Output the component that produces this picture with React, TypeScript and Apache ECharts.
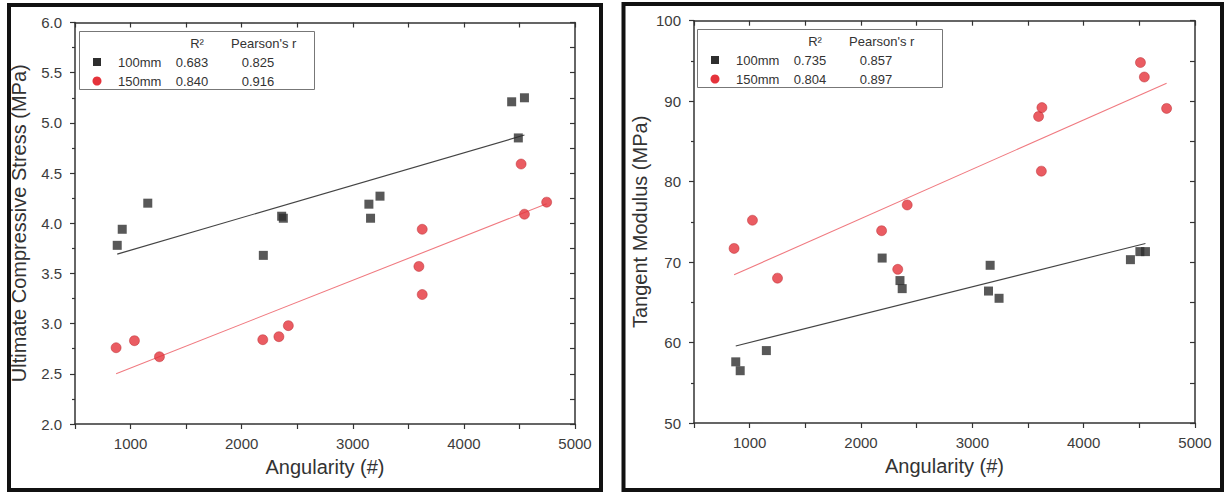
import React, { useEffect, useRef } from "react";
import * as echarts from "echarts";

// Ultimate compressive stress vs angularity
const stressAngularity100 = [880, 925, 1155, 2195, 2360, 2375, 3145, 3160, 3245, 4430, 4545, 4490];
const stress100 = [3.78, 3.94, 4.2, 3.68, 4.07, 4.05, 4.19, 4.05, 4.27, 5.21, 5.25, 4.85];
const stressAngularity150 = [870, 1035, 1260, 2190, 2335, 2420, 3625, 3595, 3625, 4515, 4545, 4745];
const stress150 = [2.76, 2.83, 2.67, 2.84, 2.87, 2.98, 3.94, 3.57, 3.29, 4.59, 4.09, 4.21];

// Tangent modulus vs angularity
const modulusAngularity100 = [875, 915, 1150, 2190, 2350, 2370, 3160, 3145, 3240, 4420, 4505, 4555];
const modulus100 = [57.6, 56.5, 59.0, 70.5, 67.7, 66.7, 69.6, 66.4, 65.5, 70.3, 71.3, 71.3];
const modulusAngularity150 = [860, 1025, 1250, 2185, 2330, 2415, 3595, 3625, 3620, 4510, 4545, 4745];
const modulus150 = [71.7, 75.2, 68.0, 73.9, 69.1, 77.1, 88.1, 89.2, 81.3, 94.8, 93.0, 89.1];

// Legend table
const sizeLabels = ["100mm", "150mm"];
const stressR2 = ["0.683", "0.840"];
const stressPearson = ["0.825", "0.916"];
const modulusR2 = ["0.735", "0.804"];
const modulusPearson = ["0.857", "0.897"];

const BLACK = "#2e2e2e";
const RED = "#e5333b";
const FONT = "Liberation Sans, Arial, sans-serif";

function zip(xs: number[], ys: number[]) {
  return xs.map((x, i) => [x, ys[i]]);
}

// Least-squares line over the data's x range
function fitLine(xs: number[], ys: number[]) {
  const n = xs.length;
  const mx = xs.reduce((a, b) => a + b, 0) / n;
  const my = ys.reduce((a, b) => a + b, 0) / n;
  let sxy = 0;
  let sxx = 0;
  for (let i = 0; i < n; i++) {
    sxy += (xs[i] - mx) * (ys[i] - my);
    sxx += (xs[i] - mx) ** 2;
  }
  const slope = sxy / sxx;
  const x0 = Math.min(...xs);
  const x1 = Math.max(...xs);
  return [
    [x0, my + slope * (x0 - mx)],
    [x1, my + slope * (x1 - mx)],
  ];
}

function legendTable(x0: number, y0: number, w: number, r2: string[], pearson: string[]) {
  const txt = (x: number, y: number, text: string, align: string) => ({
    type: "text",
    x,
    y,
    z: 21,
    style: {
      text,
      fill: "#333",
      font: `13px ${FONT}`,
      align,
      verticalAlign: "middle",
    },
  });
  const rows = [y0 + 31, y0 + 50];
  const children: any[] = [
    {
      type: "rect",
      z: 20,
      shape: { x: x0 + 0.5, y: y0 + 0.5, width: w, height: 58 },
      style: { fill: "#fff", stroke: "#777", lineWidth: 1 },
    },
    txt(x0 + 118, y0 + 12, "R²", "center"),
    txt(x0 + 152, y0 + 12, "Pearson's r", "left"),
    {
      type: "rect",
      z: 21,
      shape: { x: x0 + 14, y: rows[0] - 4, width: 8, height: 8 },
      style: { fill: BLACK },
    },
    {
      type: "circle",
      z: 21,
      shape: { cx: x0 + 18, cy: rows[1], r: 4.5 },
      style: { fill: RED },
    },
  ];
  rows.forEach((y, i) => {
    children.push(txt(x0 + 39, y, sizeLabels[i], "left"));
    children.push(txt(x0 + 113, y, r2[i], "center"));
    children.push(txt(x0 + 179, y, pearson[i], "center"));
  });
  return children;
}

const axisLine = { show: true, onZero: false, lineStyle: { color: "#333", width: 1.5 } };
const labelStyle = { color: "#3c3c3c", fontSize: 15, fontFamily: FONT };
const nameStyle = { color: "#333", fontSize: 20, fontFamily: FONT };

function bottomAxis(gridIndex: number) {
  return {
    type: "value",
    gridIndex,
    position: "bottom",
    min: 500,
    max: 5000,
    interval: 500,
    axisLine,
    axisTick: { show: true, inside: false, length: 5, lineStyle: { color: "#333", width: 1.2 } },
    axisLabel: {
      ...labelStyle,
      margin: 12,
      formatter: (v: number) => (v % 1000 === 0 ? String(v) : ""),
    },
    splitLine: { show: false },
    name: "Angularity (#)",
    nameLocation: "middle",
    nameGap: 33,
    nameTextStyle: nameStyle,
  };
}

function topAxis(gridIndex: number) {
  return {
    type: "value",
    gridIndex,
    position: "top",
    min: 500,
    max: 5000,
    interval: 500,
    axisLine,
    axisTick: { show: true, inside: true, length: 5, lineStyle: { color: "#333", width: 1.2 } },
    axisLabel: { show: false },
    splitLine: { show: false },
  };
}

function leftAxis(gridIndex: number, min: number, max: number, interval: number, digits: number, name: string, gap: number) {
  return {
    type: "value",
    gridIndex,
    position: "left",
    min,
    max,
    interval,
    axisLine,
    axisTick: { show: true, inside: false, length: 5, lineStyle: { color: "#333", width: 1.2 } },
    minorTick: { show: true, splitNumber: 2, length: 3, lineStyle: { color: "#333", width: 1.2 } },
    axisLabel: { ...labelStyle, margin: 13, formatter: (v: number) => v.toFixed(digits) },
    splitLine: { show: false },
    minorSplitLine: { show: false },
    name,
    nameLocation: "middle",
    nameGap: gap,
    nameTextStyle: nameStyle,
  };
}

function rightAxis(gridIndex: number, min: number, max: number, interval: number) {
  return {
    type: "value",
    gridIndex,
    position: "right",
    min,
    max,
    interval,
    axisLine,
    axisTick: { show: true, inside: true, length: 5, lineStyle: { color: "#333", width: 1.2 } },
    axisLabel: { show: false },
    splitLine: { show: false },
  };
}

function scatter(xi: number, yi: number, data: number[][], shape: string) {
  const isRect = shape === "rect";
  return {
    type: "scatter",
    xAxisIndex: xi,
    yAxisIndex: yi,
    symbol: shape,
    symbolSize: isRect ? 9 : 10,
    itemStyle: isRect
      ? { color: BLACK }
      : { color: RED, borderColor: "#b8262d", borderWidth: 0.6 },
    data,
    z: 3,
  };
}

function fit(xi: number, yi: number, data: number[][], color: string) {
  return {
    type: "line",
    xAxisIndex: xi,
    yAxisIndex: yi,
    showSymbol: false,
    symbol: "none",
    lineStyle: { color, width: 1.1 },
    data,
    z: 2,
  };
}

export default function App() {
  const ref = useRef<HTMLDivElement>(null);

  useEffect(() => {
    if (!ref.current) return;
    const chart = echarts.init(ref.current, undefined, { renderer: "svg" });
    chart.setOption({
      animation: false,
      backgroundColor: "#fff",
      grid: [
        { left: 75, top: 22.5, width: 500, height: 401.5 },
        { left: 694, top: 20.7, width: 501, height: 402.3 },
      ],
      xAxis: [bottomAxis(0), topAxis(0), bottomAxis(1), topAxis(1)],
      yAxis: [
        leftAxis(0, 2, 6, 0.5, 1, "Ultimate Compressive Stress (MPa)", 46),
        rightAxis(0, 2, 6, 0.25),
        leftAxis(1, 50, 100, 10, 0, "Tangent Modulus (MPa)", 44),
        rightAxis(1, 50, 100, 5),
      ],
      series: [
        fit(0, 0, fitLine(stressAngularity100, stress100), "#444"),
        fit(0, 0, fitLine(stressAngularity150, stress150), "#f07a80"),
        scatter(0, 0, zip(stressAngularity100, stress100), "rect"),
        scatter(0, 0, zip(stressAngularity150, stress150), "circle"),
        fit(2, 2, fitLine(modulusAngularity100, modulus100), "#444"),
        fit(2, 2, fitLine(modulusAngularity150, modulus150), "#f07a80"),
        scatter(2, 2, zip(modulusAngularity100, modulus100), "rect"),
        scatter(2, 2, zip(modulusAngularity150, modulus150), "circle"),
      ],
      graphic: [
        {
          type: "rect",
          z: 30,
          shape: { x: 9, y: 5, width: 592, height: 485 },
          style: { fill: "none", stroke: "#111", lineWidth: 4 },
        },
        {
          type: "rect",
          z: 30,
          shape: { x: 623.5, y: 4, width: 598.5, height: 486 },
          style: { fill: "none", stroke: "#111", lineWidth: 4 },
        },
        ...legendTable(79, 31, 235, stressR2, stressPearson),
        ...legendTable(697, 29, 245, modulusR2, modulusPearson),
      ],
    });
    return () => chart.dispose();
  }, []);

  return (
    <div
      ref={ref}
      style={{ position: "fixed", left: 0, top: 0, width: 1225, height: 494, background: "#fff" }}
    />
  );
}
